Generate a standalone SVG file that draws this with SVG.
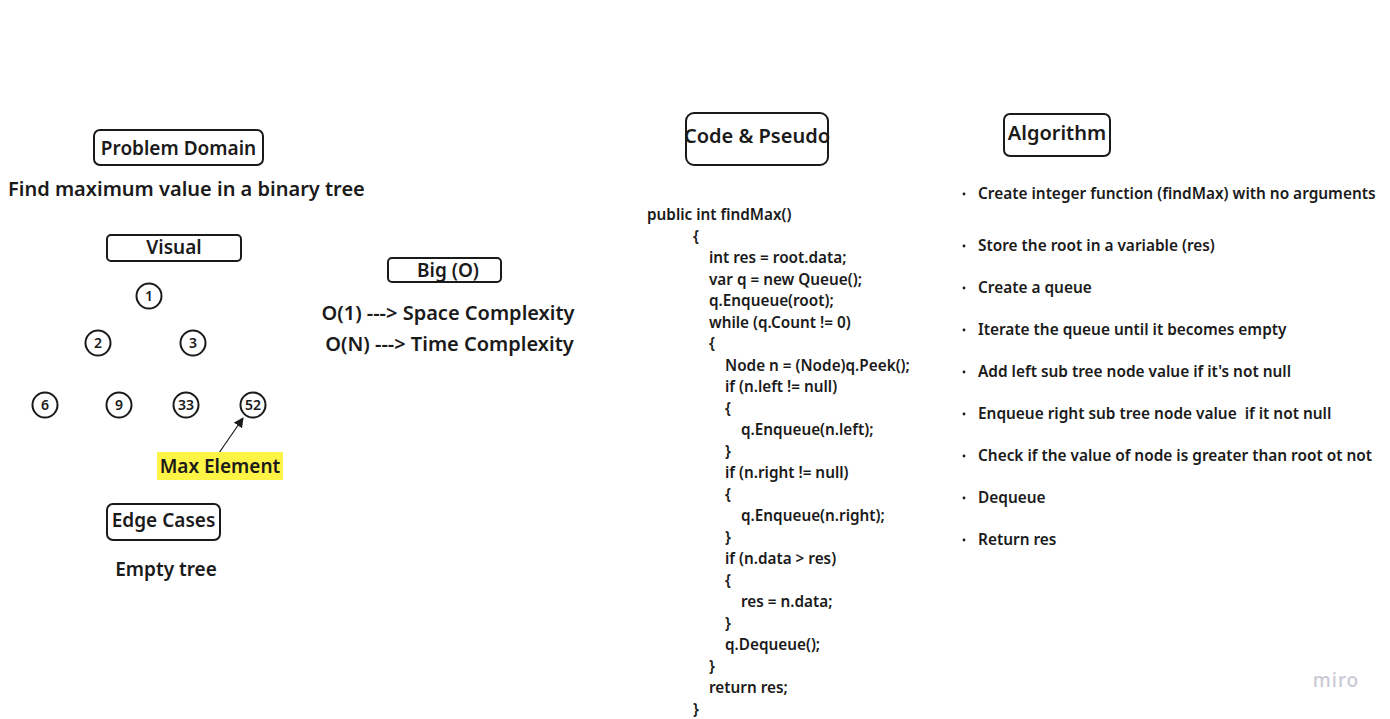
<svg xmlns="http://www.w3.org/2000/svg" width="1390" height="719" viewBox="0 0 1390 719">
<style>
text{font-family:"Noto Sans","Open Sans","DejaVu Sans",sans-serif;font-weight:600;fill:#1a1a1a}
.box{fill:#fff;stroke:#1a1a1a;stroke-width:2}
.h{font-size:19px}
.t{font-size:20px}
.c{font-size:15.3px}
.a{font-size:15.4px}
.n{font-size:14px}
.circ{fill:#fff;stroke:#1a1a1a;stroke-width:2}
.mid{text-anchor:middle}
</style>
<defs>
<marker id="arr" viewBox="0 0 10 10" refX="9" refY="5" markerWidth="10" markerHeight="10" markerUnits="userSpaceOnUse" orient="auto">
<path d="M0,0 L10,5 L0,10 z" fill="#1a1a1a"/>
</marker>
</defs>
<rect width="1390" height="719" fill="#fff"/>

<g id="problem-domain">
<rect class="box" x="94" y="130" width="169" height="35" rx="6"/>
<text class="h mid" x="178.5" y="155">Problem Domain</text>
</g>
<text class="t" x="8" y="196">Find maximum value in a binary tree</text>

<g id="visual">
<rect class="box" x="107" y="235" width="134" height="26" rx="4"/>
<text class="h mid" x="174" y="254">Visual</text>
</g>

<g id="node-1"><circle class="circ" cx="149" cy="296" r="12.5"/><text class="n mid" x="149" y="301">1</text></g>
<g id="node-2"><circle class="circ" cx="98" cy="343" r="12.5"/><text class="n mid" x="98" y="348">2</text></g>
<g id="node-3"><circle class="circ" cx="193" cy="343" r="12.5"/><text class="n mid" x="193" y="348">3</text></g>
<g id="node-6"><circle class="circ" cx="45" cy="405" r="12.5"/><text class="n mid" x="45" y="410">6</text></g>
<g id="node-9"><circle class="circ" cx="119" cy="405" r="12.5"/><text class="n mid" x="119" y="410">9</text></g>
<g id="node-33"><circle class="circ" cx="186" cy="405" r="12.5"/><text class="n mid" x="186" y="410">33</text></g>
<g id="node-52"><circle class="circ" cx="253" cy="405" r="12.5"/><text class="n mid" x="253" y="410">52</text></g>

<g id="connectors">
<line x1="219" y1="453" x2="243" y2="418" stroke="#1a1a1a" stroke-width="1.2" marker-end="url(#arr)"/>
</g>

<g id="max-element">
<rect x="157" y="452" width="126" height="28" fill="#fef445"/>
<text class="h mid" x="220" y="473">Max Element</text>
</g>

<g id="edge-cases">
<rect class="box" x="107" y="504" width="113" height="36" rx="6"/>
<text class="h mid" x="163.5" y="527">Edge Cases</text>
</g>
<text class="h mid" x="166" y="576">Empty tree</text>

<g id="big-o">
<rect class="box" x="388" y="258" width="113" height="24" rx="4"/>
<text class="h mid" x="448" y="277">Big (O)</text>
</g>
<text class="t mid" x="448" y="320">O(1) ---&gt; Space Complexity</text>
<text class="t mid" x="449.5" y="351">O(N) ---&gt; Time Complexity</text>

<g id="code-pseudo">
<rect class="box" x="686" y="113" width="142" height="52" rx="8"/>
<text class="t mid" x="757" y="143">Code &amp; Pseudo</text>
</g>

<g id="code">
<text class="c" x="647" y="220">public int findMax()</text>
<text class="c" x="693" y="242">{</text>
<text class="c" x="709" y="263">int res = root.data;</text>
<text class="c" x="709" y="285">var q = new Queue();</text>
<text class="c" x="709" y="306">q.Enqueue(root);</text>
<text class="c" x="709" y="328">while (q.Count != 0)</text>
<text class="c" x="709" y="349">{</text>
<text class="c" x="725" y="371">Node n = (Node)q.Peek();</text>
<text class="c" x="725" y="392">if (n.left != null)</text>
<text class="c" x="725" y="414">{</text>
<text class="c" x="741" y="435">q.Enqueue(n.left);</text>
<text class="c" x="725" y="457">}</text>
<text class="c" x="725" y="478">if (n.right != null)</text>
<text class="c" x="725" y="500">{</text>
<text class="c" x="741" y="521">q.Enqueue(n.right);</text>
<text class="c" x="725" y="543">}</text>
<text class="c" x="725" y="564">if (n.data &gt; res)</text>
<text class="c" x="725" y="586">{</text>
<text class="c" x="741" y="607">res = n.data;</text>
<text class="c" x="725" y="629">}</text>
<text class="c" x="725" y="650">q.Dequeue();</text>
<text class="c" x="709" y="672">}</text>
<text class="c" x="709" y="693">return res;</text>
<text class="c" x="693" y="715">}</text>
</g>

<g id="algorithm">
<rect class="box" x="1004" y="114" width="106" height="42" rx="6"/>
<text class="t mid" x="1057" y="140">Algorithm</text>
</g>

<g id="algorithm-steps">
<g fill="#1a1a1a">
<circle cx="964" cy="194" r="1.4"/>
<circle cx="964" cy="246" r="1.4"/>
<circle cx="964" cy="288" r="1.4"/>
<circle cx="964" cy="330" r="1.4"/>
<circle cx="964" cy="372" r="1.4"/>
<circle cx="964" cy="414" r="1.4"/>
<circle cx="964" cy="456" r="1.4"/>
<circle cx="964" cy="498" r="1.4"/>
<circle cx="964" cy="540" r="1.4"/>
</g>
<text class="a" x="978" y="199">Create integer function (findMax) with no arguments</text>
<text class="a" x="978" y="251">Store the root in a variable (res)</text>
<text class="a" x="978" y="293">Create a queue</text>
<text class="a" x="978" y="335">Iterate the queue until it becomes empty</text>
<text class="a" x="978" y="377">Add left sub tree node value if it's not null</text>
<text class="a" x="978" y="419" xml:space="preserve">Enqueue right sub tree node value  if it not null</text>
<text class="a" x="978" y="461">Check if the value of node is greater than root ot not</text>
<text class="a" x="978" y="503">Dequeue</text>
<text class="a" x="978" y="545">Return res</text>
</g>

<text x="1336" y="687" text-anchor="middle" style="font-size:19px;font-weight:500;fill:#c9c9d4;letter-spacing:1px">miro</text>
</svg>
